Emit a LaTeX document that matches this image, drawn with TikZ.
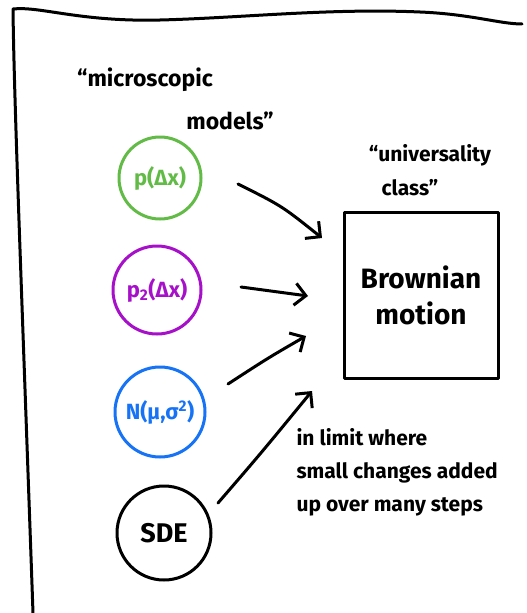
\documentclass[tikz,border=0pt]{standalone}
\usepackage{fontspec}
\setmainfont{Fira Sans}
\usetikzlibrary{arrows.meta}
\tikzset{
  pen/.style={line width=3pt, line cap=round, line join=round},
  model/.style={pen, circle, minimum size=#1, inner sep=0pt, font=\fontsize{22}{24}\selectfont\bfseries},
  flow/.style={pen, -{Straight Barb[length=11pt,width=22pt,line width=3pt]}},
  hand/.style={font=\fontsize{23}{27}\selectfont\bfseries, align=center},
  note/.style={font=\fontsize{21}{33}\selectfont\bfseries, align=left}
}
\definecolor{mgreen}{RGB}{98,187,70}
\definecolor{mpurple}{RGB}{165,16,200}
\definecolor{mblue}{RGB}{22,115,245}
\begin{document}
\begin{tikzpicture}[x=1pt,y=-1pt]
\useasboundingbox (0,0) rectangle (527,613);
% sheet edges: top and left border
\coordinate (tl) at (13,9);
\coordinate (tr) at (522,24);
\coordinate (bl) at (33,613);
\draw[pen] (bl) .. controls (22,300) and (14,100) .. (tl)
  .. controls (40,6) and (80,22) .. (160,20)
  .. controls (240,18) and (330,8) .. (420,12)
  .. controls (470,14) and (500,24) .. (tr);

% headings
\node[hand] (micro) at (145,80) {``microscopic};
\node[hand] (models) at (230,121) {models''};
\node[hand, font=\fontsize{21}{23}\selectfont\bfseries] (univ) at (430,155) {``universality};
\node[hand, font=\fontsize{21}{23}\selectfont\bfseries] (cls) at (410,188) {class''};

% microscopic models
\node[model=82pt, draw=mgreen, text=mgreen] (p1) at (160,178) {p(Δx)};
\node[model=88pt, draw=mpurple, text=mpurple] (p2) at (157,290) {p\textsubscript{2}(Δx)};
\node[model=90pt, draw=mblue, text=mblue] (gauss) at (160,412) {N(μ,σ\textsuperscript{2})};
\node[model=94pt, draw=black, font=\fontsize{27}{30}\selectfont\bfseries] (sde) at (164,533) {SDE};

% universality class
\node[pen, draw, minimum width=154pt, minimum height=166pt, inner sep=0pt,
      font=\fontsize{28}{36}\selectfont\bfseries, align=center] (bm) at (421,295) {Brownian\\motion};

% arrows into the class
\coordinate (s1) at (238,184);
\coordinate (s2) at (241,287);
\coordinate (s3) at (228,384);
\coordinate (s4) at (218,503);
\coordinate (a1) at (322,238);
\coordinate (a2) at (308,296);
\coordinate (a3) at (306,336);
\coordinate (a4) at (312,391);
\draw[flow] (s1) .. controls (282,206) .. (a1);
\draw[flow] (s2) -- (a2);
\draw[flow] (s3) .. controls (268,358) .. (a3);
\draw[flow] (s4) .. controls (262,452) .. (a4);

% note
\node[note, anchor=north west] (lim) at (293,425) {in limit where\\small changes added\\up over many steps};
\end{tikzpicture}
\end{document}
